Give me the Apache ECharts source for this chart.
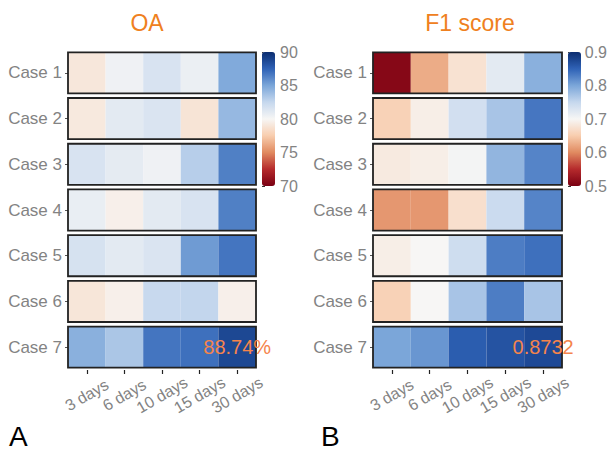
<!DOCTYPE html>
<html>
<head>
<meta charset="utf-8">
<script src="https://cdn.jsdelivr.net/npm/echarts@6/dist/echarts.min.js"></script>
<style>html,body{margin:0;padding:0;background:#fff}#c{width:610px;height:450px}</style>
</head>
<body>
<div id="c"></div>
<script>
const days = ['3 days', '6 days', '10 days', '15 days', '30 days'];
const cases = ['Case 1', 'Case 2', 'Case 3', 'Case 4', 'Case 5', 'Case 6', 'Case 7'];
// OA (%) rows = cases, cols = days
const oa = [
  [79.1, 80.4, 81.6, 80.6, 84.8],
  [79.2, 81.0, 81.5, 78.9, 84.1],
  [81.6, 80.9, 80.4, 83.0, 86.4],
  [80.7, 79.6, 81.0, 81.6, 86.4],
  [81.7, 81.0, 81.5, 85.4, 86.8],
  [79.0, 79.6, 82.4, 82.6, 79.6],
  [84.5, 83.4, 86.8, 87.0, 88.74]
];
// F1 score rows = cases, cols = days
const f1 = [
  [0.510, 0.625, 0.675, 0.720, 0.790],
  [0.656, 0.690, 0.738, 0.770, 0.835],
  [0.685, 0.690, 0.704, 0.785, 0.825],
  [0.610, 0.610, 0.672, 0.745, 0.825],
  [0.690, 0.700, 0.742, 0.830, 0.840],
  [0.656, 0.700, 0.770, 0.830, 0.770],
  [0.800, 0.812, 0.855, 0.864, 0.8732]
];
const oaTicks = [70, 75, 80, 85, 90];
const f1Ticks = [0.5, 0.6, 0.7, 0.8, 0.9];
const oaNote = '88.74%';
const f1Note = '0.8732';
const noteCell = [4, 6];

const palette = ['#7a0012','#b52a2c','#e08a60','#f8cdae','#f7f6f5','#c6d8ee','#7ba6d9','#2f62b6','#0b2d70'];
const gray = '#838383';
const font = 'Liberation Sans';

function cells(m) {
  const out = [];
  m.forEach((row, yi) => row.forEach((v, xi) => out.push([xi, yi, v])));
  return out;
}
const INSET = 2.3;
function cellItem(params, api) {
  const c = api.coord([api.value(0), api.value(1)]);
  const s = api.size([1, 1]);
  return { type: 'rect', shape: { x: c[0] - s[0] / 2, y: c[1] - s[1] / 2 + INSET, width: s[0], height: s[1] - 2 * INSET },
    style: { fill: api.visual('color') } };
}
function boxItem(params, api) {
  const c = api.coord([0, api.value(1)]);
  const s = api.size([1, 1]);
  return { type: 'rect', shape: { x: c[0] - s[0] / 2, y: c[1] - s[1] / 2 + INSET, width: s[0] * days.length, height: s[1] - 2 * INSET },
    style: { fill: 'none', stroke: '#222', lineWidth: 1.8 } };
}
function noteItem(text) {
  return function (params, api) {
    const c = api.coord([api.value(0), api.value(1)]);
    return { type: 'text', x: c[0], y: c[1], style: { text: text, fill: '#f5844c', fontSize: 20, fontFamily: font, align: 'center', verticalAlign: 'middle' } };
  };
}
const boxes = cases.map((c, i) => [0, i]);

function catX(gi) {
  return { type: 'category', gridIndex: gi, data: days, position: 'bottom',
    axisLine: { show: false },
    axisTick: { show: true, alignWithLabel: true, length: 4, lineStyle: { color: '#222', width: 1.2 } },
    axisLabel: { rotate: 30, color: gray, fontSize: 16, fontFamily: font, margin: 25, align: 'center', verticalAlign: 'middle', interval: 0 } };
}
function catY(gi) {
  return { type: 'category', gridIndex: gi, data: cases, inverse: true,
    axisLine: { show: false },
    axisTick: { show: true, alignWithLabel: true, length: 3, lineStyle: { color: '#555' } },
    axisLabel: { color: gray, fontSize: 17, fontFamily: font, margin: 6 } };
}
function barY(gi, ticks, dec) {
  return { type: 'value', gridIndex: gi, position: 'right', min: ticks[0], max: ticks[ticks.length - 1],
    interval: ticks[1] - ticks[0], splitLine: { show: false },
    axisLine: { show: false },
    axisTick: { show: true, length: 3, lineStyle: { color: '#333' } },
    axisLabel: { color: gray, fontSize: 16, fontFamily: font, margin: 5, formatter: v => Number(v).toFixed(dec) } };
}

const chart = echarts.init(document.getElementById('c'), null, { renderer: 'svg' });
chart.setOption({
  animation: false,
  textStyle: { fontFamily: font },
  graphic: [
    { type: 'text', x: 147, y: 23, style: { text: 'OA', fill: '#ef8020', fontSize: 23, fontFamily: font, align: 'center', verticalAlign: 'middle' } },
    { type: 'text', x: 470, y: 23, style: { text: 'F1 score', fill: '#ef8020', fontSize: 23, fontFamily: font, align: 'center', verticalAlign: 'middle' } },
    { type: 'text', x: 9, y: 450, style: { text: 'A', fill: '#000', fontSize: 28, fontFamily: font, align: 'left', verticalAlign: 'bottom' } },
    { type: 'text', x: 321, y: 450, style: { text: 'B', fill: '#000', fontSize: 28, fontFamily: font, align: 'left', verticalAlign: 'bottom' } }
  ],
  grid: [
    { left: 68, top: 50, width: 188, height: 320 },
    { left: 373, top: 50, width: 189, height: 320 },
    { left: 262, top: 52, width: 13, height: 134 },
    { left: 568, top: 52, width: 13, height: 134 }
  ],
  xAxis: [catX(0), catX(1),
    { type: 'value', gridIndex: 2, show: false, min: 0, max: 1 },
    { type: 'value', gridIndex: 3, show: false, min: 0, max: 1 }],
  yAxis: [catY(0), catY(1), barY(2, oaTicks, 0), barY(3, f1Ticks, 1)],
  visualMap: [
    { type: 'continuous', seriesIndex: 0, dimension: 2, min: oaTicks[0], max: oaTicks[4], inRange: { color: palette },
      left: 262, top: 52, itemWidth: 13, itemHeight: 134, padding: 0, calculable: false, hoverLink: false, text: null, showLabel: false },
    { type: 'continuous', seriesIndex: 1, dimension: 2, min: f1Ticks[0], max: f1Ticks[4], inRange: { color: palette },
      left: 568, top: 52, itemWidth: 13, itemHeight: 134, padding: 0, calculable: false, hoverLink: false, text: null, showLabel: false }
  ],
  series: [
    { type: 'custom', xAxisIndex: 0, yAxisIndex: 0, data: cells(oa), encode: { x: 0, y: 1 }, renderItem: cellItem, z: 2 },
    { type: 'custom', xAxisIndex: 1, yAxisIndex: 1, data: cells(f1), encode: { x: 0, y: 1 }, renderItem: cellItem, z: 2 },
    { type: 'custom', xAxisIndex: 0, yAxisIndex: 0, data: boxes, encode: { x: 0, y: 1 }, renderItem: boxItem, z: 3 },
    { type: 'custom', xAxisIndex: 1, yAxisIndex: 1, data: boxes, encode: { x: 0, y: 1 }, renderItem: boxItem, z: 3 },
    { type: 'custom', xAxisIndex: 0, yAxisIndex: 0, data: [noteCell], encode: { x: 0, y: 1 }, renderItem: noteItem(oaNote), z: 4 },
    { type: 'custom', xAxisIndex: 1, yAxisIndex: 1, data: [noteCell], encode: { x: 0, y: 1 }, renderItem: noteItem(f1Note), z: 4 }
  ]
});
</script>
</body>
</html>
